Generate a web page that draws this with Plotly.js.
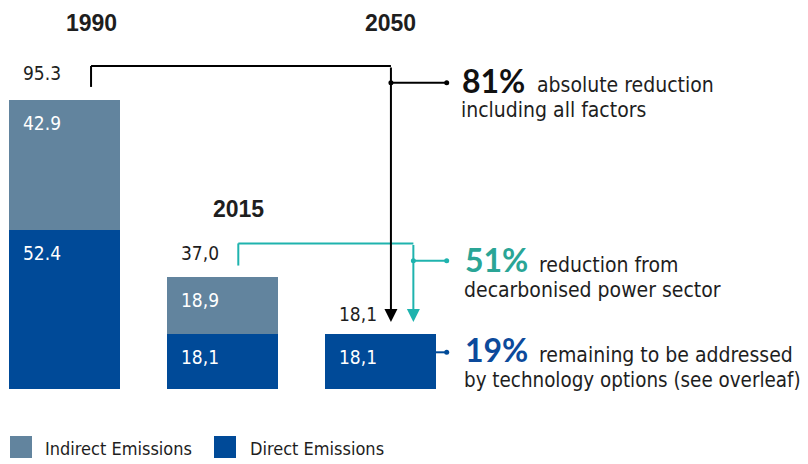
<!DOCTYPE html>
<html><head><meta charset="utf-8">
<script src="https://cdn.plot.ly/plotly-3.0.1.min.js"></script>
<style>html,body{margin:0;padding:0;background:#fff}</style>
</head><body><div id="chart" style="width:808px;height:464px"></div>
<script>
// ---- data ----
const years = ["1990", "2015", "2050"];
const direct = [52.4, 18.1, 18.1];
const indirect = [42.9, 18.9, 0];
const totals = [95.3, 37.0, 18.1];
const directLabels = ["52.4", "18,1", "18,1"];
const indirectLabels = ["42.9", "18,9", ""];
const totalLabels = ["95.3", "37,0", "18,1"];
const seriesNames = ["Indirect Emissions", "Direct Emissions"];
const pctLabels = ["81%", "51%", "19%"];
const pctLine1 = ["absolute reduction", "reduction from", "remaining to be addressed"];
const pctLine2 = ["including all factors", "decarbonised power sector", "by technology options (see overleaf)"];

// ---- styles ----
const C_DIRECT = "#004a98", C_INDIRECT = "#62849e", C_TEAL = "#1fb3ae", C_TEAL_TXT = "#2aa596";
const C_TXT = "#1e1e1e";
const NARROW = "'DejaVu Sans Condensed', 'Liberation Sans', sans-serif";
const BOLDF = "Lato, 'Liberation Sans', sans-serif";
const YEARF = "'Liberation Sans', Arial, sans-serif";
const xs = [0, 1, 2];
const BW = 0.7025;
const H = 389; // plot height in px
const px = p => p / 808;
const py = p => (H - p) / H;

const traces = [
  {type: "bar", name: seriesNames[1], x: xs, y: direct, width: BW,
   marker: {color: C_DIRECT, line: {width: 0}}, hoverinfo: "skip", showlegend: false},
  {type: "bar", name: seriesNames[0], x: xs, y: indirect, width: BW,
   marker: {color: C_INDIRECT, line: {width: 0}}, hoverinfo: "skip", showlegend: false}
];

const ann = [];
const totalShift = [27, 24, 20];
xs.forEach((x, i) => {
  const left = x - BW / 2;
  ann.push({x: left, y: totals[i], xref: "x", yref: "y", xanchor: "left", yanchor: "middle",
    xshift: 12, yshift: totalShift[i], text: totalLabels[i], showarrow: false,
    font: {family: NARROW, size: 19, color: C_TXT}});
  ann.push({x: left, y: direct[i], xref: "x", yref: "y", xanchor: "left", yanchor: "middle",
    xshift: 12, yshift: -23, text: directLabels[i], showarrow: false,
    font: {family: NARROW, size: 19, color: "#ffffff"}});
  if (indirectLabels[i]) ann.push({x: left, y: totals[i], xref: "x", yref: "y", xanchor: "left", yanchor: "middle",
    xshift: 12, yshift: -23, text: indirectLabels[i], showarrow: false,
    font: {family: NARROW, size: 19, color: "#ffffff"}});
});

// bracket geometry (data units)
const bx0 = 0.168, bx1 = 2.066, tx0 = 1.100, tx1 = 2.208, cx = 2.419;
const bTop = totals[0] + 11.2, bStart = totals[0] + 4.3;
const tTop = totals[1] + 11.0, tStart = totals[1] + 3.7;
const tip = totals[2] + 4.0;
const bConn = totals[0] + 5.7, tConn = totals[1] + 5.3, dConn = 12.1;

// year labels
ann.push({x: bx0, y: 120.7, xref: "x", yref: "y", text: "<b>" + years[0] + "</b>", showarrow: false,
  font: {family: YEARF, size: 23, color: C_TXT}});
ann.push({x: tx0, y: 59.4, xref: "x", yref: "y", text: "<b>" + years[1] + "</b>", showarrow: false,
  font: {family: YEARF, size: 23, color: C_TXT}});
ann.push({x: bx1, y: 120.7, xref: "x", yref: "y", text: "<b>" + years[2] + "</b>", showarrow: false,
  font: {family: YEARF, size: 23, color: C_TXT}});

// arrows
ann.push({x: bx1, y: tip, xref: "x", yref: "y", axref: "x", ayref: "y", ax: bx1, ay: bTop, text: "",
  showarrow: true, arrowhead: 2, arrowsize: 1.3, arrowwidth: 2, arrowcolor: "#000", standoff: 0});
ann.push({x: tx1, y: tip, xref: "x", yref: "y", axref: "x", ayref: "y", ax: tx1, ay: tTop, text: "",
  showarrow: true, arrowhead: 2, arrowsize: 1.3, arrowwidth: 2, arrowcolor: C_TEAL, standoff: 0});

// right-hand text
const pctColors = ["#111111", C_TEAL_TXT, "#0c4a9b"];
const rowY = [[81, 85, 110], [259, 265, 290], [349, 355, 380]];
const pctX = [460, 463, 463];
const line1X = [535, 537, 537];
const line2Size = [21, 21, 20.4];
pctLabels.forEach((p, i) => {
  ann.push({x: px(pctX[i]), y: py(rowY[i][0]), xref: "paper", yref: "paper", xanchor: "left", yanchor: "middle",
    text: "<b>" + p + "</b>", showarrow: false, font: {family: BOLDF, size: 32, color: pctColors[i]}});
  ann.push({x: px(line1X[i]), y: py(rowY[i][1]), xref: "paper", yref: "paper", xanchor: "left", yanchor: "middle",
    text: pctLine1[i], showarrow: false, font: {family: NARROW, size: 21, color: C_TXT}});
  ann.push({x: px(pctX[i] - 1), y: py(rowY[i][2]), xref: "paper", yref: "paper", xanchor: "left", yanchor: "middle",
    text: pctLine2[i], showarrow: false, font: {family: NARROW, size: line2Size[i], color: C_TXT}});
});

// manual legend
const legX = [10, 214];
const legTX = [43, 248];
const legC = [C_INDIRECT, C_DIRECT];
const shapes = [];
seriesNames.forEach((n, i) => {
  shapes.push({type: "rect", xref: "paper", yref: "paper", x0: px(legX[i]), x1: px(legX[i] + 22),
    y0: py(436), y1: py(458), fillcolor: legC[i], line: {width: 0}});
  ann.push({x: px(legTX[i]), y: py(448), xref: "paper", yref: "paper", xanchor: "left", yanchor: "middle",
    text: n, showarrow: false, font: {family: NARROW, size: 18, color: C_TXT}});
});

// bracket lines
const L = (x0, y0, x1, y1, c) => ({type: "line", xref: "x", yref: "y", x0, y0, x1, y1, line: {color: c, width: 2}});
shapes.push(L(bx0, bStart, bx0, bTop, "#000"));
shapes.push(L(bx0, bTop, bx1, bTop, "#000"));
shapes.push(L(tx0, tStart, tx0, tTop, C_TEAL));
shapes.push(L(tx0, tTop, tx1, tTop, C_TEAL));
shapes.push(L(bx1, bConn, cx, bConn, "#000"));
shapes.push(L(tx1, tConn, cx, tConn, C_TEAL));
shapes.push(L(2 + BW / 2, dConn, cx, dConn, C_DIRECT));
const dot = (x, y, c) => ({type: "circle", xref: "x", yref: "y", xsizemode: "pixel", ysizemode: "pixel",
  xanchor: x, yanchor: y, x0: -2.5, x1: 2.5, y0: -2.5, y1: 2.5, fillcolor: c, line: {width: 0}});
shapes.push(dot(bx1, bConn, "#000"), dot(cx, bConn, "#000"));
shapes.push(dot(tx1, tConn, C_TEAL), dot(cx, tConn, C_TEAL));
shapes.push(dot(cx, dConn, C_DIRECT));

const layout = {
  width: 808, height: 464,
  margin: {l: 0, r: 0, t: 0, b: 75},
  paper_bgcolor: "#ffffff", plot_bgcolor: "#ffffff",
  barmode: "stack",
  showlegend: false,
  xaxis: {range: [-0.4082, 4.7057], visible: false, fixedrange: true},
  yaxis: {range: [0, 128.26], visible: false, fixedrange: true},
  annotations: ann,
  shapes: shapes
};
Plotly.newPlot("chart", traces, layout, {displayModeBar: false, staticPlot: true});
</script></body></html>
